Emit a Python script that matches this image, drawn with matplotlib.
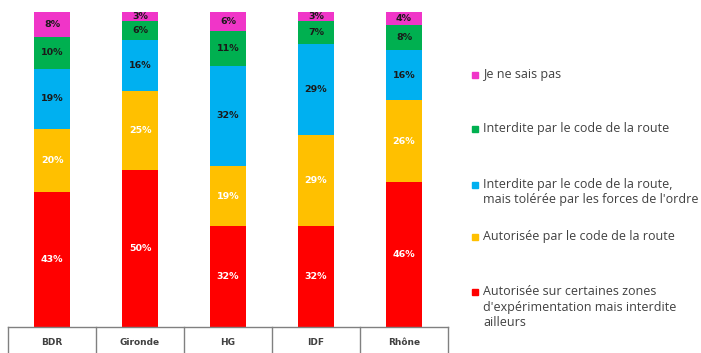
import matplotlib.pyplot as plt
import matplotlib
from matplotlib.patches import Rectangle
import numpy as np

matplotlib.rcParams['font.family'] = ['DejaVu Sans']

# données
regions = ['BDR', 'Gironde', 'HG', 'IDF', 'Rhône']
series_names = [
    "Autorisée sur certaines zones\nd'expérimentation mais interdite\nailleurs",
    "Autorisée par le code de la route",
    "Interdite par le code de la route,\nmais tolérée par les forces de l'ordre",
    "Interdite par le code de la route",
    "Je ne sais pas",
]
autorisee_zones = [43, 50, 32, 32, 46]
autorisee_code = [20, 25, 19, 29, 26]
interdite_toleree = [19, 16, 32, 29, 16]
interdite_code = [10, 6, 11, 7, 8]
ne_sais_pas = [8, 3, 6, 3, 4]

series = [autorisee_zones, autorisee_code, interdite_toleree, interdite_code, ne_sais_pas]
colors = ['#FF0000', '#FFC000', '#00B0F0', '#00B050', '#F035C8']
label_colors = ['white', 'white', '#1a1a1a', '#1a1a1a', '#1a1a1a']

W, H = 701, 353
fig = plt.figure(figsize=(W / 100, H / 100), dpi=100)
ax = fig.add_axes([8 / W, 26 / H, 440 / W, 315 / H])

x = np.arange(len(regions))
bottom = np.zeros(len(regions))
for vals, col, lc in zip(series, colors, label_colors):
    vals = np.array(vals)
    ax.bar(x, vals, width=0.4, bottom=bottom, color=col, edgecolor='none')
    for xi, b, v in zip(x, bottom, vals):
        ax.text(xi, b + v / 2, f'{v}%', ha='center', va='center',
                fontsize=6.8, fontweight='bold', color=lc)
    bottom += vals

ax.set_xlim(-0.5, len(regions) - 0.5)
ax.set_ylim(0, 100)
ax.set_yticks([])
ax.set_xticks(x)
ax.set_xticklabels(regions, fontsize=6.5, fontweight='bold', color='#404040')
ax.tick_params(axis='x', length=0, pad=8)
for s in ax.spines.values():
    s.set_visible(False)

# cadre du tableau sous les barres
ax.plot([-0.5, len(regions) - 0.5], [0, 0], color='#808080', lw=1, clip_on=False)
for b in np.arange(-0.5, len(regions), 1.0):
    ax.plot([b, b], [0, -9], color='#808080', lw=1, clip_on=False)

# légende placée à la main (de haut en bas : Je ne sais pas ... Autorisée sur certaines zones)
legend_y = [75, 129, 185, 237, 292]
for name, col, yy in zip(series_names[::-1], colors[::-1], legend_y):
    fig.add_artist(Rectangle((472 / W, 1 - (yy + 3) / H), 6 / W, 6 / H,
                             transform=fig.transFigure, color=col))
    fig.text(483 / W, 1 - (yy - 7) / H, name, ha='left', va='top',
             fontsize=9, color='#404040', family='Open Sans', linespacing=1.25)

plt.savefig('out.png', dpi=100)
